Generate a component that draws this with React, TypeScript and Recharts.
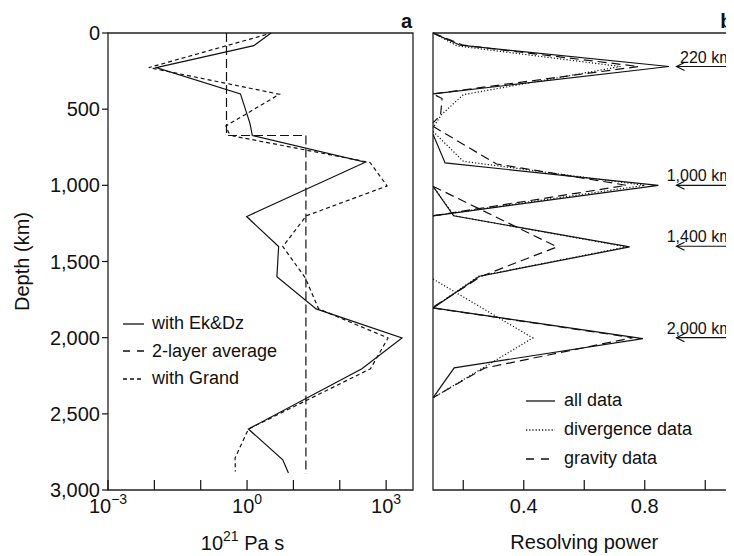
import { Label, Legend, Line, LineChart, ReferenceArea, ReferenceLine, XAxis, YAxis } from "recharts";

const FONT = '"Liberation Sans", Arial, Helvetica, sans-serif';
const INK = "#111";

// a: viscosity (10^21 Pa s) against depth (km)
const ekDz = [
  { d: 0, v: 3.3 }, { d: 83, v: 1.4 }, { d: 227, v: 0.011 }, { d: 400, v: 0.72 },
  { d: 591, v: 1.15 }, { d: 673, v: 1.3 }, { d: 848, v: 355 }, { d: 1205, v: 0.98 },
  { d: 1402, v: 4.8 }, { d: 1600, v: 4.4 }, { d: 1811, v: 31 }, { d: 2002, v: 2200 },
  { d: 2204, v: 300 }, { d: 2600, v: 1.07 }, { d: 2802, v: 5.9 }, { d: 2889, v: 7.8 },
];
const grand = [
  { d: 10, v: 2.6 }, { d: 227, v: 0.0076 }, { d: 402, v: 5.0 }, { d: 610, v: 0.35 },
  { d: 654, v: 0.4 }, { d: 676, v: 0.5 }, { d: 850, v: 450 }, { d: 1004, v: 1050 },
  { d: 1200, v: 19 }, { d: 1402, v: 5.9 }, { d: 1607, v: 18 }, { d: 1811, v: 35 },
  { d: 2002, v: 1100 }, { d: 2204, v: 460 }, { d: 2600, v: 1.07 }, { d: 2790, v: 0.55 },
  { d: 2878, v: 0.56 },
];
const twoLayer = [
  { d: 0, v: 0.36 }, { d: 673, v: 0.36 }, { d: 673, v: 18.6 }, { d: 2893, v: 18.6 },
];

// b: resolving kernels, one sub-list per target depth
const allData = [
  [{ d: 0, v: 0.1 }, { d: 80, v: 0.19 }, { d: 220, v: 0.88 }, { d: 400, v: 0.1 }],
  [{ d: 665, v: 0.1 }, { d: 853, v: 0.14 }, { d: 1000, v: 0.845 }, { d: 1200, v: 0.1 }],
  [{ d: 1006, v: 0.1 }, { d: 1200, v: 0.168 }, { d: 1404, v: 0.75 }, { d: 1597, v: 0.254 }, { d: 1805, v: 0.1 }],
  [{ d: 1805, v: 0.1 }, { d: 2006, v: 0.794 }, { d: 2198, v: 0.17 }, { d: 2395, v: 0.1 }],
];
const divergenceData = [
  [{ d: 0, v: 0.1 }, { d: 85, v: 0.18 }, { d: 220, v: 0.72 }, { d: 405, v: 0.2 }, { d: 536, v: 0.128 }, { d: 622, v: 0.1 }],
  [{ d: 646, v: 0.1 }, { d: 842, v: 0.2 }, { d: 1000, v: 0.8 }, { d: 1200, v: 0.1 }],
  [{ d: 1006, v: 0.1 }, { d: 1200, v: 0.17 }, { d: 1404, v: 0.74 }, { d: 1597, v: 0.25 }, { d: 1805, v: 0.1 }],
  [{ d: 1615, v: 0.1 }, { d: 2002, v: 0.43 }, { d: 2395, v: 0.1 }],
];
const gravityData = [
  [{ d: 0, v: 0.1 }, { d: 80, v: 0.2 }, { d: 220, v: 0.78 }, { d: 400, v: 0.1 }, { d: 430, v: 0.13 }, { d: 540, v: 0.125 }, { d: 590, v: 0.1 }],
  [{ d: 613, v: 0.1 }, { d: 860, v: 0.31 }, { d: 1000, v: 0.74 }, { d: 1200, v: 0.1 }],
  [{ d: 1006, v: 0.1 }, { d: 1404, v: 0.51 }, { d: 1597, v: 0.26 }, { d: 1800, v: 0.1 }],
  [{ d: 1805, v: 0.1 }, { d: 2000, v: 0.76 }, { d: 2200, v: 0.27 }, { d: 2395, v: 0.1 }],
];

const depthTicks = [0, 500, 1000, 1500, 2000, 2500, 3000];
const viscTicks = [0.001, 0.01, 0.1, 1, 10, 100, 1000];
const powerTicks = [0.2, 0.4, 0.6, 0.8, 1.0];
const powerLabels = [0.4, 0.8];
const peakDepths = [220, 1000, 1400, 2000];
const peakLabels = ["220 km", "1,000 km", "1,400 km", "2,000 km"];
const arrowFrom = 0.905;

const viscKey = [
  { name: "with Ek&Dz", dash: undefined },
  { name: "2-layer average", dash: "7 7" },
  { name: "with Grand", dash: "4 3" },
];
const powerKey = [
  { name: "all data", dash: undefined },
  { name: "divergence data", dash: "1.2 2" },
  { name: "gravity data", dash: "8 7" },
];

function ViscTick({ x, y, payload }: any) {
  const exp = Math.round(Math.log10(payload.value));
  return (
    <g>
      <line x1={x} x2={x} y1={y} y2={y - 10} stroke={INK} strokeWidth={1.2} />
      {exp % 3 === 0 && (
        <text x={x} y={y + 23} textAnchor="middle" fontSize={20} fill={INK}>
          10
          <tspan dy={-9} fontSize={14}>{exp < 0 ? `\u2212${-exp}` : exp}</tspan>
        </text>
      )}
    </g>
  );
}

function PowerTick({ x, y, payload }: any) {
  const show = powerLabels.some((p) => Math.abs(p - payload.value) < 1e-9);
  return (
    <g>
      <line x1={x} x2={x} y1={y} y2={y - 10} stroke={INK} strokeWidth={1.2} />
      {show && (
        <text x={x} y={y + 23} textAnchor="middle" fontSize={20} fill={INK}>
          {payload.value}
        </text>
      )}
    </g>
  );
}

function InnerDepthTick({ x, y }: any) {
  return <line x1={x} x2={x + 10} y1={y} y2={y} stroke={INK} strokeWidth={1.2} />;
}

function Key({ items, sample, gap, rowH }: any) {
  return (
    <div style={{ fontFamily: FONT, fontSize: 18, color: INK }}>
      {items.map((it: any) => (
        <div key={it.name} style={{ display: "flex", alignItems: "center", height: rowH }}>
          <svg width={sample} height={6} style={{ flex: "none" }}>
            <line x1={0} x2={sample} y1={3} y2={3} stroke={INK} strokeWidth={1.3} strokeDasharray={it.dash} />
          </svg>
          <span style={{ marginLeft: gap, whiteSpace: "nowrap" }}>{it.name}</span>
        </div>
      ))}
    </div>
  );
}

function PeakArrow({ x1, y1, x2, text }: any) {
  return (
    <g>
      <line x1={x1} x2={x2} y1={y1} y2={y1} stroke={INK} strokeWidth={1.2} />
      <path d={`M${x1 + 8},${y1 - 4} L${x1},${y1} L${x1 + 8},${y1 + 4}`} fill="none" stroke={INK} strokeWidth={1.2} />
      <text x={x2 - 3} y={y1 - 4} textAnchor="end" fontSize={16} fill={INK}>
        {text}
      </text>
    </g>
  );
}

function PanelLetter({ viewBox, text, shift }: any) {
  return (
    <text x={viewBox.x + viewBox.width + shift} y={viewBox.y - 5} textAnchor="end" fontSize={20} fontWeight="bold" fill={INK}>
      {text}
    </text>
  );
}

const lineBase = { type: "linear" as const, dataKey: "v", dot: false, activeDot: false, isAnimationActive: false, stroke: INK, strokeWidth: 1.2 };

export default function App() {
  return (
    <div style={{ position: "relative", width: 726, height: 548, overflow: "hidden", fontFamily: FONT, background: "#fff" }}>
      <div style={{ position: "absolute", left: 0, top: 0 }}>
        <LineChart layout="vertical" width={420} height={548} margin={{ top: 25, right: 15, bottom: 26, left: 0 }}>
          <XAxis
            type="number"
            dataKey="v"
            scale="log"
            domain={[0.001, 3800]}
            allowDataOverflow
            ticks={viscTicks}
            interval={0}
            tick={(p: any) => <ViscTick {...p} />}
            tickLine={false}
            axisLine={false}
            tickSize={0}
            tickMargin={0}
            height={40}
          >
            <Label
              content={({ viewBox }: any) => (
                <text x={viewBox.x + viewBox.width / 2 - 18} y={viewBox.y + 60} textAnchor="middle" fontSize={20} fill={INK}>
                  10<tspan dy={-9} fontSize={14}>21</tspan>
                  <tspan dy={9}> Pa s</tspan>
                </text>
              )}
            />
          </XAxis>
          <YAxis
            type="number"
            dataKey="d"
            domain={[0, 3000]}
            ticks={depthTicks}
            interval={0}
            width={100}
            tick={{ fontSize: 20, fill: INK }}
            tickFormatter={(v: number) => v.toLocaleString("en-US")}
            tickLine={{ stroke: INK, strokeWidth: 1.2 }}
            axisLine={false}
          >
            <Label
              content={({ viewBox }: any) => (
                <text
                  x={viewBox.x + 14}
                  y={viewBox.y + viewBox.height / 2}
                  transform={`rotate(-90 ${viewBox.x + 14} ${viewBox.y + viewBox.height / 2})`}
                  textAnchor="middle"
                  dominantBaseline="central"
                  fontSize={20}
                  fill={INK}
                >
                  Depth (km)
                </text>
              )}
            />
          </YAxis>
          <ReferenceArea
            x1={0.001}
            x2={3800}
            y1={0}
            y2={3000}
            fill="none"
            stroke="#222"
            strokeWidth={1.3}
            label={(p: any) => <PanelLetter {...p} text="a" shift={-1} />}
          />
          <Line {...lineBase} data={twoLayer} strokeDasharray="9 4" name="2-layer average" />
          <Line {...lineBase} data={grand} strokeDasharray="4 3" name="with Grand" />
          <Line {...lineBase} data={ekDz} name="with Ek&Dz" />
          <Legend
            layout="vertical"
            align="center"
            verticalAlign="middle"
            wrapperStyle={{ left: 115, top: 302, width: 260 }}
            content={() => <Key items={viscKey} sample={21} gap={8} rowH={27.5} />}
          />
        </LineChart>
      </div>

      <div style={{ position: "absolute", left: 412, top: 0 }}>
        <LineChart layout="vertical" width={326} height={548} margin={{ top: 25, right: 10.5, bottom: 26, left: 13 }}>
          <XAxis
            type="number"
            dataKey="v"
            domain={[0.1, 1.1]}
            allowDataOverflow
            ticks={powerTicks}
            interval={0}
            tick={(p: any) => <PowerTick {...p} />}
            tickLine={false}
            axisLine={false}
            tickSize={0}
            tickMargin={0}
            height={40}
          >
            <Label
              content={({ viewBox }: any) => (
                <text x={viewBox.x + viewBox.width / 2} y={viewBox.y + 59} textAnchor="middle" fontSize={20} fill={INK}>
                  Resolving power
                </text>
              )}
            />
          </XAxis>
          <YAxis
            type="number"
            dataKey="d"
            domain={[0, 3000]}
            ticks={depthTicks}
            interval={0}
            width={0}
            tick={(p: any) => <InnerDepthTick {...p} />}
            tickLine={false}
            axisLine={false}
            tickSize={0}
            tickMargin={0}
          />
          <ReferenceArea
            x1={0.1}
            x2={1.1}
            y1={0}
            y2={3000}
            fill="none"
            stroke="#222"
            strokeWidth={1.3}
            label={(p: any) => <PanelLetter {...p} text="b" shift={-3} />}
          />
          {gravityData.map((k, i) => (
            <Line key={`g${i}`} {...lineBase} data={k} strokeDasharray="9 5" name="gravity data" />
          ))}
          {divergenceData.map((k, i) => (
            <Line key={`v${i}`} {...lineBase} data={k} strokeDasharray="1.2 2" name="divergence data" />
          ))}
          {allData.map((k, i) => (
            <Line key={`a${i}`} {...lineBase} data={k} name="all data" />
          ))}
          {peakDepths.map((d, i) => (
            <ReferenceLine
              key={d}
              segment={[{ x: arrowFrom, y: d }, { x: 1.1, y: d }]}
              ifOverflow="visible"
              shape={(p: any) => <PeakArrow {...p} text={peakLabels[i]} />}
            />
          ))}
          <Legend
            layout="vertical"
            align="center"
            verticalAlign="middle"
            wrapperStyle={{ left: 106, top: 378, width: 220 }}
            content={() => <Key items={powerKey} sample={29} gap={9} rowH={29} />}
          />
        </LineChart>
      </div>
    </div>
  );
}
